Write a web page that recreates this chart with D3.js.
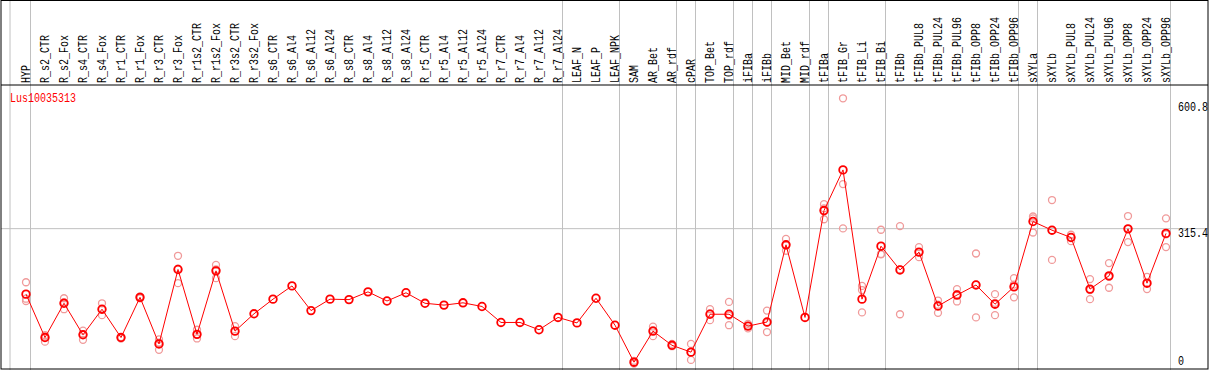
<!DOCTYPE html>
<html>
<head>
<meta charset="utf-8">
<script src="https://cdn.jsdelivr.net/npm/d3@7"></script>
<style>
	body { margin: 0; background: #fff; }
	svg { display: block; }
	text { font-family: 'Liberation Mono', 'DejaVu Sans Mono', monospace; font-size: 10px; }
</style>
</head>
<body>
<div id="chart"></div>
<script>
const geneId = 'Lus10035313';

const samples = ['HYP', 'R_s2_CTR', 'R_s2_Fox', 'R_s4_CTR', 'R_s4_Fox', 'R_r1_CTR', 'R_r1_Fox',
	'R_r3_CTR', 'R_r3_Fox', 'R_r1s2_CTR', 'R_r1s2_Fox', 'R_r3s2_CTR', 'R_r3s2_Fox',
	'R_s6_CTR', 'R_s6_Al4', 'R_s6_Al12', 'R_s6_Al24', 'R_s8_CTR', 'R_s8_Al4', 'R_s8_Al12', 'R_s8_Al24',
	'R_r5_CTR', 'R_r5_Al4', 'R_r5_Al12', 'R_r5_Al24', 'R_r7_CTR', 'R_r7_Al4', 'R_r7_Al12', 'R_r7_Al24',
	'LEAF_N', 'LEAF_P', 'LEAF_NPK', 'SAM', 'AR_Bet', 'AR_rdf', 'cPAR', 'TOP_Bet', 'TOP_rdf',
	'iFIBa', 'iFIBb', 'MID_Bet', 'MID_rdf', 'tFIBa', 'tFIB_Gr', 'tFIB_Li', 'tFIB_Bi',
	'tFIBb', 'tFIBb_PUL8', 'tFIBb_PUL24', 'tFIBb_PUL96', 'tFIBb_OPP8', 'tFIBb_OPP24', 'tFIBb_OPP96',
	'sXYLa', 'sXYLb', 'sXYLb_PUL8', 'sXYLb_PUL24', 'sXYLb_PUL96', 'sXYLb_OPP8', 'sXYLb_OPP24', 'sXYLb_OPP96'];

// number of samples in each tissue group (separated by grey lines)
const groupSizes = [1, 28, 3, 3, 1, 2, 1, 1, 2, 1, 3, 7, 1, 7];

const means = [172, 77, 152, 83, 139, 77, 165, 63, 226, 84, 223, 91, 129,
	161, 190, 136, 161, 160, 177, 157, 175,
	152, 148, 153, 145, 110, 110, 94, 121,
	109, 163, 104, 23, 91, 60, 45, 128, 128,
	102, 111, 280, 121, 355, 444, 161, 277,
	225, 264, 146, 170, 192, 150, 188,
	331, 312, 296, 183, 212, 315, 196, 305];

const replicates = [[198, 157, 162], [68, 82, 79], [163, 139, 154], [92, 72, 84], [152, 126, 138],
	[78, 75, 77], [167, 163, 165], [50, 73, 66], [256, 196, 228], [94, 75, 84], [236, 207, 226],
	[102, 80, 91], [], [], [], [], [], [], [], [], [], [], [], [], [], [], [], [], [],
	[], [], [], [26, 20, 22], [101, 80, 93], [63, 58, 59], [63, 28, 45], [139, 115, 130], [155, 104, 125],
	[97, 107, 103], [136, 89, 109], [293, 267, 279], [], [369, 336, 360], [600.8, 413, 316],
	[190, 181, 132], [313, 259, 260],
	[321, 128, 226], [275, 253, 264], [158, 131, 149], [183, 156, 172], [261, 121, 193], [172, 126, 153], [207, 165, 193],
	[342, 307, 338], [378, 247, 312], [302, 288, 297], [205, 161, 181], [240, 186, 210], [343, 286, 315],
	[210, 183, 196], [338, 275, 303]];

const yTicks = [0, 315.4, 600.8];

function drawChart() {
	const width = 1209;
	const height = 370;
	const headerBottom = 85;

	const $svg = d3.select('#chart').append('svg')
		.attr('width', width)
		.attr('height', height);

	const x = d3.scalePoint()
		.domain(samples)
		.range([26, 1166]);

	const maxVal = d3.max(replicates.flat().concat(means));
	const y = d3.scaleLinear()
		.domain([0, maxVal])
		.range([372.7, 98.3]);

	// group separators
	let ends = [];
	let acc = 0;
	groupSizes.forEach(n => { acc += n; ends.push(acc - 1); });
	const sepX = [x(samples[0]) - 16].concat(ends.map(i => x(samples[i]) + 4.5));

	$svg.append('g')
		.selectAll('line')
		.data(sepX)
		.enter()
		.append('line')
		.attr('x1', d => d).attr('x2', d => d)
		.attr('y1', 0).attr('y2', height)
		.attr('stroke', '#c0c0c0')
		.attr('stroke-width', 1);

	// grid line at middle tick
	$svg.append('line')
		.attr('x1', 1).attr('x2', 1208)
		.attr('y1', y(yTicks[1])).attr('y2', y(yTicks[1]))
		.attr('stroke', '#c0c0c0');

	// frame
	$svg.append('rect')
		.attr('x', 1).attr('y', 0.5)
		.attr('width', 1207).attr('height', 368.5)
		.attr('fill', 'none')
		.attr('stroke', '#000');
	$svg.append('line')
		.attr('x1', 1).attr('x2', 1208)
		.attr('y1', headerBottom).attr('y2', headerBottom)
		.attr('stroke', '#000');

	// sample labels
	$svg.append('g')
		.selectAll('text')
		.data(samples)
		.enter()
		.append('text')
		.attr('transform', d => `translate(${x(d) + 4},83) rotate(-90) scale(1,1.3)`)
		.attr('fill', '#000')
		.text(d => d);

	// gene name
	$svg.append('text')
		.attr('transform', 'translate(10,101.5) scale(1,1.3)')
		.attr('fill', '#ff0000')
		.text(geneId);

	// y tick labels on the right
	$svg.append('g')
		.selectAll('text')
		.data(yTicks)
		.enter()
		.append('text')
		.attr('transform', d => {
			const ty = Math.max(111, Math.min(365, y(d) + 8));
			return `translate(1178,${ty}) scale(1,1.3)`;
		})
		.attr('fill', '#000')
		.text(d => d === 0 ? '0' : d.toFixed(1));

	// replicate points
	const repPts = [];
	replicates.forEach((arr, i) => arr.forEach(v => repPts.push({ s: samples[i], v: v })));
	$svg.append('g')
		.selectAll('circle')
		.data(repPts)
		.enter()
		.append('circle')
		.attr('cx', d => x(d.s))
		.attr('cy', d => y(d.v))
		.attr('r', 3.5)
		.attr('fill', 'none')
		.attr('stroke', '#f09a9a')
		.attr('stroke-width', 1.3);

	// mean line
	const line = d3.line()
		.x((d, i) => x(samples[i]))
		.y(d => y(d));
	$svg.append('path')
		.datum(means)
		.attr('d', line)
		.attr('fill', 'none')
		.attr('stroke', '#ff0000')
		.attr('stroke-width', 1);

	$svg.append('g')
		.selectAll('circle')
		.data(means)
		.enter()
		.append('circle')
		.attr('cx', (d, i) => x(samples[i]))
		.attr('cy', d => y(d))
		.attr('r', 3.8)
		.attr('fill', 'none')
		.attr('stroke', '#ff0000')
		.attr('stroke-width', 1.8);
}

drawChart();
</script>
</body>
</html>
